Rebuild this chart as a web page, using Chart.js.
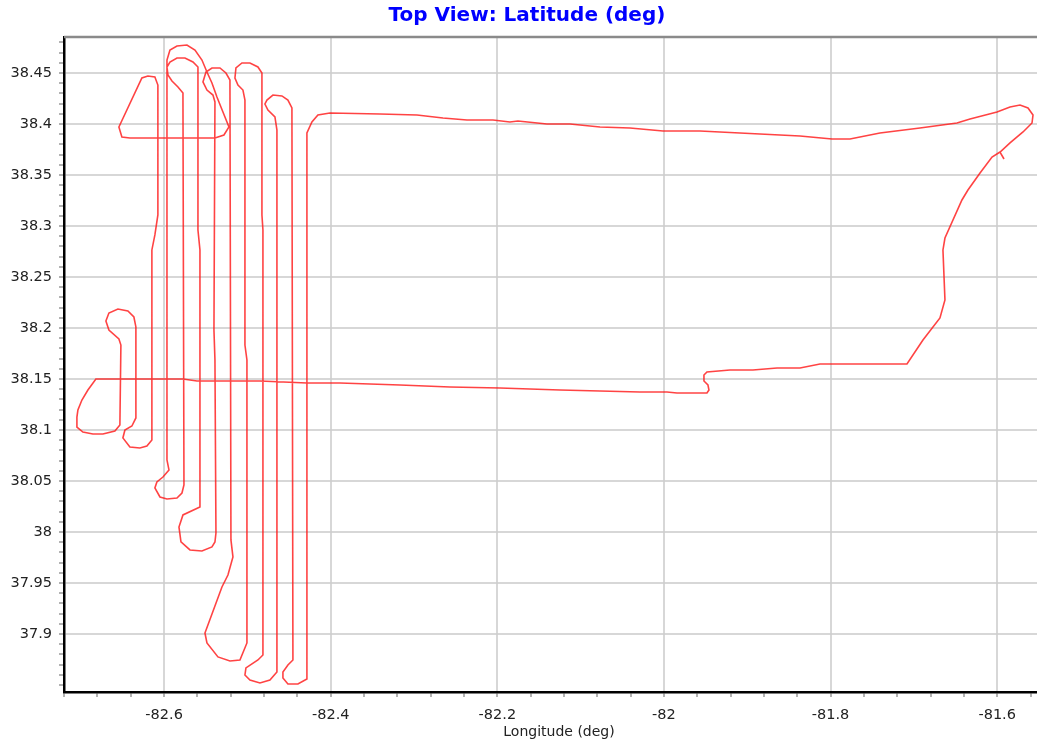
<!DOCTYPE html>
<html>
<head>
<meta charset="utf-8">
<title>Top View: Latitude (deg)</title>
<script src="https://cdn.jsdelivr.net/npm/chart.js@4.4.3/dist/chart.umd.min.js"></script>
<style>
  html,body{margin:0;padding:0;background:#fff;overflow:hidden;}
  #c{display:block;}
</style>
</head>
<body>
<canvas id="c" width="1054" height="746"></canvas>
<script>
// 비행 궤적 (경도/위도) - 그림에서 읽은 값
const pathLon = [
  -81.5918,-81.5966,-81.5846,-81.5690,-81.5582,-81.5570,-81.5630,-81.5726,-81.5846,-81.6002,
  -81.6326,-81.6483,-81.6927,-81.7407,-81.7767,-81.7983,-81.8367,-81.8848,-81.9568,-82.0012,
  -82.0408,-82.0768,-82.1128,-82.1405,-82.1753,-82.1849,-82.2053,-82.2365,-82.2653,-82.2965,
  -82.3409,-82.4010,-82.4154,-82.4226,-82.4286,-82.4286,-82.4394,-82.4514,-82.4574,-82.4574,
  -82.4514,-82.4454,-82.4466,-82.4514,-82.4586,-82.4694,-82.4766,-82.4790,-82.4754,-82.4670,
  -82.4646,-82.4646,-82.4730,-82.4850,-82.4970,-82.5030,-82.5018,-82.4874,-82.4814,-82.4814,
  -82.4826,-82.4826,-82.4874,-82.4970,-82.5066,-82.5138,-82.5150,-82.5114,-82.5054,-82.5030,
  -82.5030,-82.5006,-82.5006,-82.5090,-82.5210,-82.5354,-82.5486,-82.5510,-82.5306,-82.5234,
  -82.5174,-82.5198,-82.5210,-82.5258,-82.5330,-82.5426,-82.5498,-82.5534,-82.5486,-82.5414,
  -82.5390,-82.5402,-82.5390,-82.5378,-82.5390,-82.5426,-82.5546,-82.5690,-82.5798,-82.5822,
  -82.5774,-82.5570,-82.5570,-82.5594,-82.5594,-82.5654,-82.5750,-82.5846,-82.5930,-82.5966,
  -82.5954,-82.5906,-82.5834,-82.5774,-82.5774,-82.5762,-82.5786,-82.5846,-82.5966,-82.6050,
  -82.6111,-82.6087,-82.6014,-82.5942,-82.5966,-82.5966,-82.5930,-82.5846,-82.5726,-82.5630,
  -82.5546,-82.5486,-82.5426,-82.5366,-82.5294,-82.5222,-82.5282,-82.5390,-82.6411,-82.6507,
  -82.6543,-82.6267,-82.6195,-82.6111,-82.6075,-82.6075,-82.6111,-82.6147,-82.6147,-82.6207,
  -82.6291,-82.6411,-82.6495,-82.6471,-82.6387,-82.6339,-82.6339,-82.6363,-82.6435,-82.6555,
  -82.6663,-82.6699,-82.6663,-82.6543,-82.6519,-82.6531,-82.6591,-82.6735,-82.6855,-82.6975,
  -82.7047,-82.7047,-82.7035,-82.6987,-82.6915,-82.6819,-82.5774,-82.5606,-82.4850,-82.4286,
  -82.3890,-82.3169,-82.2569,-82.1969,-82.1248,-82.0768,-82.0288,-81.9964,-81.9844,-81.9484,
  -81.9460,-81.9472,-81.9520,-81.9520,-81.9484,-81.9208,-81.8932,-81.8643,-81.8367,-81.8127,
  -81.7491,-81.7083,-81.6891,-81.6687,-81.6627,-81.6651,-81.6627,-81.6423,-81.6351,-81.6206,
  -81.6062,-81.5966
];
const pathLat = [
  38.3657,38.3725,38.3814,38.3922,38.4010,38.4088,38.4157,38.4186,38.4167,38.4118,
  38.4049,38.4010,38.3961,38.3912,38.3853,38.3853,38.3882,38.3902,38.3931,38.3931,
  38.3961,38.3971,38.4000,38.4000,38.4029,38.4020,38.4039,38.4039,38.4059,38.4088,
  38.4098,38.4108,38.4088,38.4020,38.3912,37.8559,37.8510,37.8510,37.8569,37.8627,
  37.8696,37.8745,38.4157,38.4235,38.4275,38.4284,38.4235,38.4196,38.4137,38.4069,
  38.3941,37.8627,37.8549,37.8520,37.8549,37.8598,37.8667,37.8745,37.8794,38.2961,
  38.3108,38.4500,38.4559,38.4598,38.4598,38.4549,38.4451,38.4382,38.4333,38.4235,
  38.1833,38.1686,37.8912,37.8745,37.8735,37.8775,37.8912,37.9010,37.9461,37.9578,
  37.9755,37.9922,38.4431,38.4500,38.4549,38.4549,38.4510,38.4412,38.4333,38.4284,
  38.4216,38.1980,38.1686,37.9990,37.9902,37.9853,37.9814,37.9824,37.9902,38.0049,
  38.0167,38.0245,38.2765,38.2961,38.4559,38.4608,38.4647,38.4647,38.4608,38.4559,
  38.4480,38.4422,38.4363,38.4304,38.4235,38.0461,38.0382,38.0333,38.0324,38.0343,
  38.0431,38.0490,38.0539,38.0608,38.0706,38.4627,38.4725,38.4765,38.4775,38.4725,
  38.4627,38.4510,38.4402,38.4265,38.4118,38.3971,38.3892,38.3863,38.3863,38.3873,
  38.3971,38.4451,38.4471,38.4461,38.4382,38.3108,38.2912,38.2765,38.0902,38.0843,
  38.0824,38.0833,38.0922,38.1000,38.1039,38.1118,38.2010,38.2108,38.2167,38.2186,
  38.2147,38.2069,38.1980,38.1892,38.1833,38.1049,38.0990,38.0961,38.0961,38.0980,
  38.1029,38.1127,38.1196,38.1294,38.1392,38.1500,38.1500,38.1480,38.1480,38.1461,
  38.1461,38.1441,38.1422,38.1412,38.1392,38.1382,38.1373,38.1373,38.1363,38.1363,
  38.1392,38.1441,38.1480,38.1539,38.1569,38.1588,38.1588,38.1608,38.1608,38.1647,
  38.1647,38.1647,38.1882,38.2098,38.2275,38.2765,38.2882,38.3255,38.3353,38.3520,
  38.3676,38.3725
];

// 축 범위와 눈금
const xMin = -82.7202, xMax = -81.5318;
const yMin = 37.8431, yMax = 38.4853;
const xTickLabels = [-82.6, -82.4, -82.2, -82, -81.8, -81.6];
const yTickLabels = [37.9, 37.95, 38, 38.05, 38.1, 38.15, 38.2, 38.25, 38.3, 38.35, 38.4, 38.45];
const xMinorStep = 0.04, yMinorStep = 0.01;

const FONT = "'DejaVu Sans', Verdana, sans-serif";
const isLabel = (list, v) => list.some(t => Math.abs(t - v) < 1e-6);

// 보조 눈금까지 포함한 눈금 목록
function stepTicks(min, max, step){
  const out = [];
  for(let k = Math.ceil(min/step - 1e-9); k*step <= max + 1e-9; k++){
    out.push({value: +(k*step).toFixed(4)});
  }
  return out;
}

// 위쪽 회색 테두리
const topBorder = {
  id: 'topBorder',
  afterDraw(chart){
    const {ctx, chartArea} = chart;
    ctx.save();
    ctx.strokeStyle = '#8a8a8a';
    ctx.lineWidth = 2.5;
    ctx.beginPath();
    ctx.moveTo(chartArea.left, chartArea.top);
    ctx.lineTo(chart.width, chartArea.top);
    ctx.stroke();
    ctx.restore();
  }
};

new Chart(document.getElementById('c'), {
  type: 'scatter',
  data: {
    datasets: [{
      data: pathLon.map((x, i) => ({x, y: pathLat[i]})),
      showLine: true,
      borderColor: 'rgba(255,20,20,0.8)',
      borderWidth: 1.6,
      pointRadius: 0,
      tension: 0
    }]
  },
  options: {
    responsive: false,
    animation: false,
    devicePixelRatio: 1,
    layout: {padding: 0},
    plugins: {
      legend: {display: false},
      tooltip: {enabled: false},
      title: {
        display: true,
        text: 'Top View: Latitude (deg)',
        color: '#0000ff',
        font: {family: FONT, size: 20, weight: 'bold', lineHeight: 1.2},
        padding: {top: 4, bottom: 9}
      }
    },
    scales: {
      x: {
        type: 'linear',
        min: xMin, max: xMax,
        afterBuildTicks: s => { s.ticks = stepTicks(xMin, xMax, xMinorStep); },
        afterFit: s => { s.height = 54; },
        border: {color: '#000', width: 2.5},
        grid: {
          color: c => isLabel(xTickLabels, c.tick.value) ? 'rgba(205,205,205,0.8)' : 'rgba(0,0,0,0)',
          lineWidth: 2,
          tickColor: '#999',
          tickLength: 5,
          tickWidth: 1.5
        },
        ticks: {
          autoSkip: false,
          maxRotation: 0,
          padding: 10,
          color: '#222',
          font: {family: FONT, size: 14.5},
          callback: v => isLabel(xTickLabels, v) ? String(+(+v).toFixed(1)) : ''
        },
        title: {
          display: true,
          text: 'Longitude (deg)',
          color: '#222',
          font: {family: FONT, size: 14},
          padding: {top: 0, bottom: 5}
        }
      },
      y: {
        type: 'linear',
        min: yMin, max: yMax,
        afterBuildTicks: s => { s.ticks = stepTicks(yMin, yMax, yMinorStep); },
        afterFit: s => { s.width = 64; },
        border: {color: '#000', width: 2.5},
        grid: {
          color: c => isLabel(yTickLabels, c.tick.value) ? 'rgba(205,205,205,0.8)' : 'rgba(0,0,0,0)',
          lineWidth: 2,
          tickColor: '#999',
          tickLength: 5,
          tickWidth: 1.5
        },
        ticks: {
          autoSkip: false,
          padding: 7,
          color: '#222',
          font: {family: FONT, size: 14.5},
          callback: v => isLabel(yTickLabels, v) ? String(+(+v).toFixed(2)) : ''
        }
      }
    }
  },
  plugins: [topBorder]
});
</script>
</body>
</html>
